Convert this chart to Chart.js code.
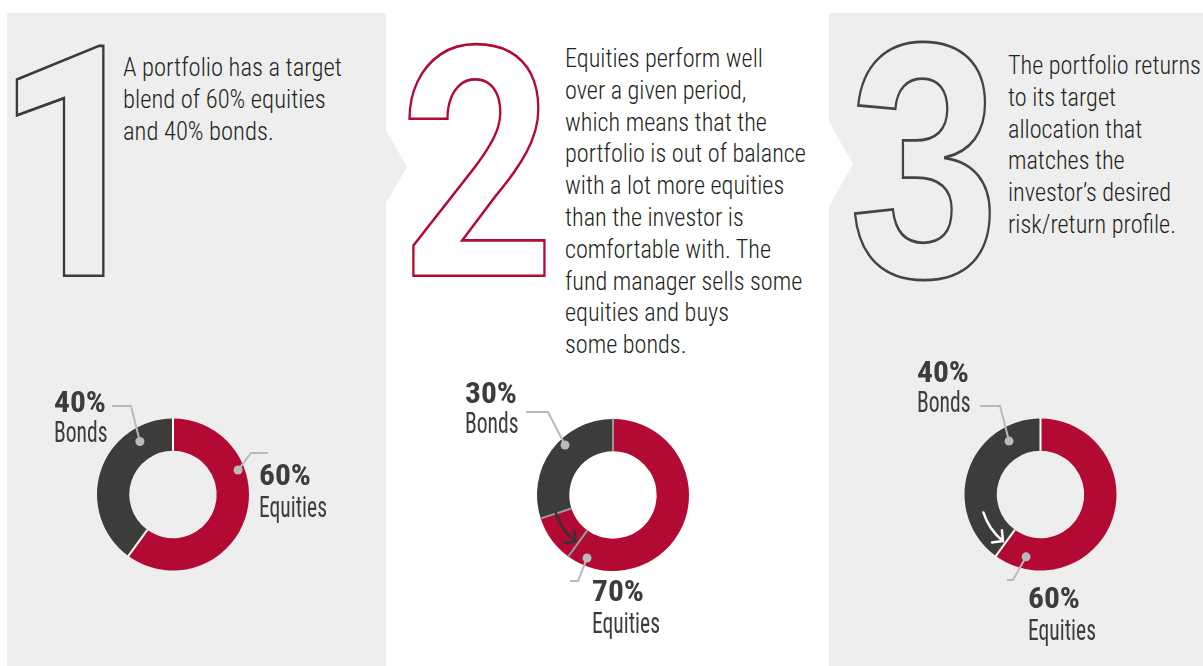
<!DOCTYPE html>
<html>
<head>
<meta charset="utf-8">
<title>Rebalancing a portfolio</title>
<script src="https://cdn.jsdelivr.net/npm/chart.js@4.4.1/dist/chart.umd.min.js"></script>
<style>
  html, body { margin: 0; padding: 0; background: #fff; }
  #page { position: relative; width: 1203px; height: 666px; overflow: hidden; }
  #page svg, #page canvas { position: absolute; left: 0; top: 0; }
  .para { font-family: "Roboto Condensed", "Liberation Sans Narrow", Roboto, sans-serif; font-weight: 300; font-size: 25px; fill: #231f20; }
  .num { font-weight: 700; fill: none; }
</style>
</head>
<body>
<div id="page">
  <svg id="deco" width="1203" height="666">
    <rect x="7" y="13" width="379" height="653" fill="#eeeeee"/>
    <polygon points="386,130 407,167 386,203" fill="#eeeeee"/>
    <rect x="829" y="13" width="374" height="653" fill="#eeeeee"/>
    <polygon points="829,122 853,164 829,206" fill="#ffffff"/>

    <text id="n0" class="num" stroke="#3b3b3b" data-font="Roboto, sans-serif">1</text>
    <text id="n1" class="num" stroke="#b20a33" data-font="Roboto, sans-serif">2</text>
    <text id="n2" class="num" stroke="#444444" data-font="'Liberation Sans', Arial, sans-serif">3</text>

    <g class="para" data-x="123" data-y="76" data-w="219">
      <text>A portfolio has a target</text>
      <text>blend of 60% equities</text>
      <text>and 40% bonds.</text>
    </g>
    <g class="para" data-x="565" data-y="67" data-w="241">
      <text>Equities perform well</text>
      <text>over a given period,</text>
      <text>which means that the</text>
      <text>portfolio is out of balance</text>
      <text>with a lot more equities</text>
      <text>than the investor is</text>
      <text>comfortable with. The</text>
      <text>fund manager sells some</text>
      <text>equities and buys</text>
      <text>some bonds.</text>
    </g>
    <g class="para" data-x="1008" data-y="74" data-w="193">
      <text>The portfolio returns</text>
      <text>to its target</text>
      <text>allocation that</text>
      <text>matches the</text>
      <text>investor’s desired</text>
      <text>risk/return profile.</text>
    </g>
  </svg>
  <canvas id="c0" width="1203" height="666"></canvas>
  <canvas id="c1" width="1203" height="666"></canvas>
  <canvas id="c2" width="1203" height="666"></canvas>
</div>
<script>
// chart data
const categories = ['Equities', 'Bonds'];
const equities = [60, 70, 60];
const bonds = [40, 30, 40];
const targetEquities = 60;

const FONT = '"Roboto Condensed", "Liberation Sans Narrow", Roboto, sans-serif';
const RED = '#b20a33';
const DARK = '#3c3c3b';
const LEAD = '#bababa';
const W = 1203, H = 666;

// big outlined step numbers, fitted into their boxes
const numBoxes = [[15, 42, 92, 235], [407, 40, 140, 237], [853, 40, 138, 241]];
const mc = document.createElement('canvas').getContext('2d');
function fitGlyph(el, box, sw) {
  const fam = el.dataset.font;
  el.style.fontFamily = fam;
  mc.font = '700 100px ' + fam;
  const m = mc.measureText(el.textContent);
  const w = m.actualBoundingBoxLeft + m.actualBoundingBoxRight;
  const h = m.actualBoundingBoxAscent + m.actualBoundingBoxDescent;
  const sx = (box[2] - sw) / w, sy = (box[3] - sw) / h;
  el.setAttribute('font-size', 100);
  el.setAttribute('transform', 'translate(' + (box[0] + sw / 2 + m.actualBoundingBoxLeft * sx) + ' ' +
    (box[1] + sw / 2 + m.actualBoundingBoxAscent * sy) + ') scale(' + sx + ' ' + sy + ')');
  el.setAttribute('stroke-width', sw / Math.sqrt(sx * sy));
}
numBoxes.forEach((b, i) => fitGlyph(document.getElementById('n' + i), b, 2.5));

// paragraphs: place lines, squeeze to the measured width
document.querySelectorAll('g.para').forEach(g => {
  const x = +g.dataset.x, y = +g.dataset.y;
  let widest = 0;
  g.querySelectorAll('text').forEach((t, i) => {
    t.setAttribute('x', x);
    t.setAttribute('y', y + i * 31.8);
    widest = Math.max(widest, t.getComputedTextLength());
  });
  const s = +g.dataset.w / widest;
  g.setAttribute('transform', 'translate(' + x + ' 0) scale(' + s + ' 1) translate(' + (-x) + ' 0)');
});

// clockwise-from-top degrees to canvas radians
const rad = d => (d - 90) * Math.PI / 180;

const calloutPlugin = {
  id: 'callouts',
  afterDatasetsDraw(chart, args, opts) {
    const ctx = chart.ctx;
    const arcs = chart.getDatasetMeta(0).data;
    const p = arcs[0].getProps(['x', 'y', 'innerRadius', 'outerRadius'], true);
    const cx = p.x, cy = p.y, ri = p.innerRadius, ro = p.outerRadius;
    const values = chart.data.datasets[0].data;
    const total = values.reduce((a, b) => a + b, 0);
    const ang = v => -Math.PI / 2 + v / total * Math.PI * 2;
    ctx.save();

    // separators between slices (and at the target mark)
    const seps = arcs.map(a => a.startAngle);
    if (opts.showTarget) seps.push(ang(targetEquities));
    ctx.strokeStyle = opts.sepColor;
    ctx.lineWidth = 2;
    seps.forEach(a => {
      ctx.beginPath();
      ctx.moveTo(cx + ri * Math.cos(a), cy + ri * Math.sin(a));
      ctx.lineTo(cx + (ro + 0.5) * Math.cos(a), cy + (ro + 0.5) * Math.sin(a));
      ctx.stroke();
    });

    // rebalancing arrow, running back from the drifted mix to the target
    if (opts.arrowFrom != null) {
      const r = (ri + ro) / 2;
      const a1 = ang(opts.arrowFrom) + 0.01, a2 = ang(targetEquities) + 0.05;
      ctx.strokeStyle = opts.arrowColor;
      ctx.lineWidth = 2.5;
      ctx.lineCap = 'round';
      ctx.lineJoin = 'round';
      ctx.beginPath();
      ctx.arc(cx, cy, r, a1, a2, true);
      ctx.stroke();
      const tx = cx + r * Math.cos(a2), ty = cy + r * Math.sin(a2);
      const back = Math.atan2(Math.cos(a2), -Math.sin(a2));
      ctx.beginPath();
      ctx.moveTo(tx + 11 * Math.cos(back + 0.8), ty + 11 * Math.sin(back + 0.8));
      ctx.lineTo(tx, ty);
      ctx.lineTo(tx + 11 * Math.cos(back - 0.8), ty + 11 * Math.sin(back - 0.8));
      ctx.stroke();
    }

    // leader lines and labels
    ctx.font = '700 30px ' + FONT;
    const sxB = 52 / ctx.measureText('40%').width;
    ctx.font = '400 30px ' + FONT;
    const sxN = 68 / ctx.measureText('Equities').width;
    opts.callouts.forEach(c => {
      const dx = cx + c.r * Math.cos(rad(c.deg)), dy = cy + c.r * Math.sin(rad(c.deg));
      ctx.strokeStyle = LEAD;
      ctx.lineWidth = 2;
      ctx.lineCap = 'butt';
      ctx.lineJoin = 'miter';
      ctx.beginPath();
      ctx.moveTo(dx, dy);
      c.path.forEach(pt => ctx.lineTo(cx + pt[0], cy + pt[1]));
      ctx.stroke();
      ctx.fillStyle = LEAD;
      ctx.beginPath();
      ctx.arc(dx, dy, 4.5, 0, Math.PI * 2);
      ctx.fill();

      ctx.fillStyle = DARK;
      ctx.textBaseline = 'alphabetic';
      ctx.save();
      ctx.translate(cx + c.tx, cy + c.ty[0]);
      ctx.scale(sxB, 1);
      ctx.font = '700 30px ' + FONT;
      ctx.fillText(values[c.index] + '%', 0, 0);
      ctx.restore();
      ctx.save();
      ctx.translate(cx + c.tx, cy + c.ty[1]);
      ctx.scale(sxN, 1);
      ctx.font = '400 30px ' + FONT;
      ctx.fillText(chart.data.labels[c.index], 0, 0);
      ctx.restore();
    });
    ctx.restore();
  }
};

const centers = [[173, 494.5], [613, 495], [1040.5, 494.5]];
const styles = [
  { sepColor: '#ffffff', showTarget: false, arrowFrom: null, arrowColor: null,
    callouts: [
      { index: 1, deg: 328, r: 62.5, path: [[-42, -88.5], [-61, -88.5]], tx: -119, ty: [-82.5, -52.5] },
      { index: 0, deg: 69.4, r: 69.5, path: [[78, -41.5], [95, -41.5]], tx: 86, ty: [-9.5, 22.5] }
    ] },
  { sepColor: '#9a9a9a', showTarget: true, arrowFrom: equities[1], arrowColor: '#333333',
    callouts: [
      { index: 1, deg: 316.2, r: 69.3, path: [[-65, -83], [-87, -83]], tx: -148, ty: [-92, -62] },
      { index: 0, deg: 202.4, r: 68.2, path: [[-35, 86], [-43, 86]], tx: -21, ty: [106, 138] }
    ] },
  { sepColor: '#ffffff', showTarget: false, arrowFrom: equities[1], arrowColor: '#ffffff',
    callouts: [
      { index: 1, deg: 329.5, r: 62, path: [[-40.5, -88.5], [-60.5, -88.5]], tx: -123.5, ty: [-112.5, -82.5] },
      { index: 0, deg: 193, r: 64, path: [[-27.5, 85.5], [-33.5, 85.5]], tx: -12.5, ty: [113.5, 145.5] }
    ] }
];

centers.forEach((c, i) => {
  new Chart(document.getElementById('c' + i), {
    type: 'doughnut',
    data: {
      labels: categories,
      datasets: [{
        data: [equities[i], bonds[i]],
        backgroundColor: [RED, DARK],
        borderWidth: 0,
        radius: 76,
        cutout: 46
      }]
    },
    options: {
      responsive: false,
      devicePixelRatio: 1,
      animation: false,
      events: [],
      layout: { padding: { left: c[0] - 80, right: W - c[0] - 80, top: c[1] - 80, bottom: H - c[1] - 80 } },
      plugins: {
        legend: { display: false },
        tooltip: { enabled: false },
        callouts: styles[i]
      }
    },
    plugins: [calloutPlugin]
  });
});
</script>
</body>
</html>
